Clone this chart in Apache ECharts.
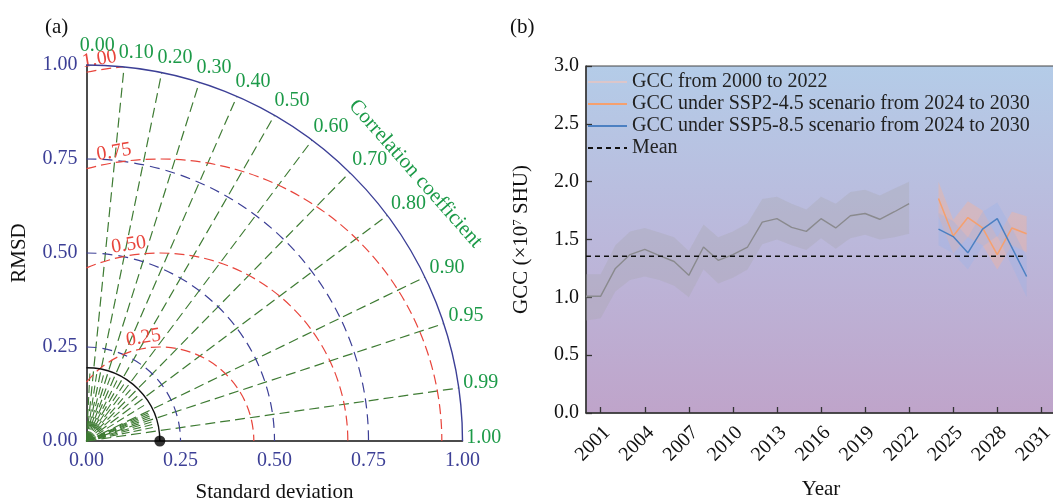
<!DOCTYPE html>
<html><head><meta charset="utf-8">
<script src="https://cdn.jsdelivr.net/npm/echarts@6/dist/echarts.min.js"></script>
<style>html,body{margin:0;padding:0;background:#fff}#c{width:1053px;height:499px}</style>
</head><body><div id="c"></div>
<script>
// ---------- Panel (a): Taylor diagram ----------
const refStd = 0.195;                       // reference standard deviation (black dot)
const stdTicks = [0, 0.25, 0.5, 0.75, 1.0];
const stdArcs = [0.25, 0.5, 0.75];
const rmsdCircles = [0.25, 0.5, 0.75, 1.0];
const rmsdLabels = ['0.25', '0.50', '0.75', '1.00'];
const corrMajor = [0.1, 0.2, 0.3, 0.4, 0.5, 0.6, 0.7, 0.8, 0.9, 0.95, 0.99];
const corrMinor = [0.05, 0.15, 0.25, 0.35, 0.45, 0.55, 0.65, 0.75, 0.85, 0.91, 0.92, 0.93, 0.94, 0.96, 0.97, 0.98];
const corrLabelValues = [0, 0.1, 0.2, 0.3, 0.4, 0.5, 0.6, 0.7, 0.8, 0.9, 0.95, 0.99, 1.0];
const corrLabels = ['0.00','0.10','0.20','0.30','0.40','0.50','0.60','0.70','0.80','0.90','0.95','0.99','1.00'];

// ---------- Panel (b): GCC time series ----------
const histYears = [2000,2001,2002,2003,2004,2005,2006,2007,2008,2009,2010,2011,2012,2013,2014,2015,2016,2017,2018,2019,2020,2021,2022];
const histGCC  = [1.01,1.01,1.25,1.37,1.415,1.36,1.31,1.19,1.435,1.32,1.37,1.435,1.65,1.68,1.605,1.57,1.68,1.60,1.705,1.725,1.675,1.74,1.81];
const histLow  = [0.80,0.82,1.05,1.15,1.18,1.15,1.10,1.00,1.24,1.12,1.17,1.24,1.46,1.50,1.45,1.41,1.51,1.42,1.51,1.54,1.50,1.52,1.55];
const histHigh = [1.20,1.20,1.45,1.57,1.60,1.56,1.52,1.40,1.63,1.52,1.57,1.64,1.85,1.87,1.81,1.76,1.87,1.81,1.91,1.93,1.88,1.94,2.00];
const projYears = [2024,2025,2026,2027,2028,2029,2030];
const ssp245     = [1.855,1.53,1.69,1.60,1.37,1.60,1.55];
const ssp245Low  = [1.70,1.38,1.52,1.45,1.24,1.45,1.39];
const ssp245High = [2.00,1.67,1.83,1.75,1.52,1.74,1.70];
const ssp585     = [1.59,1.525,1.385,1.59,1.68,1.43,1.18];
const ssp585Low  = [1.45,1.38,1.24,1.44,1.53,1.27,1.00];
const ssp585High = [1.73,1.66,1.52,1.74,1.82,1.60,1.35];
const meanGCC = 1.355;
const meanYears = [2000, 2030];
const yearTicks = [2001,2004,2007,2010,2013,2016,2019,2022,2025,2028,2031];
const seriesNames = ['GCC from 2000 to 2022','GCC under SSP2-4.5 scenario from 2024 to 2030','GCC under SSP5-8.5 scenario from 2024 to 2030','Mean'];

const FONT = 'Liberation Serif';
const NAVY = '#3c3f96', RED = '#e8453c', GTXT = '#1c9a48', GLINE = '#3e7b33';
const deg = d => d * Math.PI / 180;

function taylorRender(params, api) {
  const o = api.coord([0, 0]);
  const R = api.coord([1, 0])[0] - o[0];
  const P = (r, th, cx) => [o[0] + R * ((cx || 0) + r * Math.cos(th)), o[1] - R * r * Math.sin(th)];
  const kids = [];
  const arc = (cxu, r, t1, t2, stroke, dash, w) => ({
    type: 'arc',
    shape: { cx: o[0] + R * cxu, cy: o[1], r: R * r, startAngle: -t2, endAngle: -t1, clockwise: true },
    style: { stroke: stroke, fill: 'none', lineWidth: w || 1.2, lineDash: dash || null }
  });
  corrMinor.forEach(c => {
    const a = P(0, 0), b = P(refStd - 0.015, Math.acos(c));
    kids.push({ type: 'line', shape: { x1: a[0], y1: a[1], x2: b[0], y2: b[1] }, style: { stroke: GLINE, lineWidth: 1.1, lineDash: [8, 4] } });
  });
  corrMajor.forEach(c => {
    const a = P(0, 0), b = P(1, Math.acos(c));
    kids.push({ type: 'line', shape: { x1: a[0], y1: a[1], x2: b[0], y2: b[1] }, style: { stroke: GLINE, lineWidth: 1.2, lineDash: [10, 5] } });
  });
  stdArcs.forEach(r => kids.push(arc(0, r, 0, Math.PI / 2, NAVY, [10, 6], 1.2)));
  rmsdCircles.forEach((r, i) => {
    const c = refStd;
    const tEnd = Math.acos(-c / r);
    let tStart = 0;
    if (c + r > 1) tStart = Math.acos((1 - c * c - r * r) / (2 * c * r));
    kids.push(arc(c, r, tStart, tEnd, RED, [10, 5], 1.2));
    const p = P(r + 0.028, deg(99), c);
    kids.push({ type: 'text', x: p[0], y: p[1], rotation: deg(9),
      style: { text: rmsdLabels[i], fill: RED, fontSize: 20, fontFamily: FONT, align: 'center', verticalAlign: 'middle' } });
  });
  kids.push(arc(0, refStd, 0, Math.PI / 2, '#111', null, 1.4));
  kids.push(arc(0, 1, 0, Math.PI / 2, NAVY, null, 1.4));
  corrLabelValues.forEach((c, i) => {
    const th = Math.acos(c) * 180 / Math.PI;
    const ta = th + (th - 45) / 45;
    const p = P(1.01 + (th > 85 ? 0.015 : 0), deg(ta));
    kids.push({ type: 'text', x: p[0], y: p[1],
      style: { text: corrLabels[i], fill: GTXT, fontSize: 20, fontFamily: FONT, align: 'left', verticalAlign: 'bottom' } });
  });
  const tp = P(1.127, deg(39.1));
  kids.push({ type: 'text', x: tp[0], y: tp[1], rotation: -deg(48.5),
    style: { text: 'Correlation coefficient', fill: GTXT, fontSize: 21, fontFamily: FONT, align: 'center', verticalAlign: 'middle' } });
  return { type: 'group', children: kids };
}

function bandSeries(years, low, high, color) {
  return {
    type: 'custom', xAxisIndex: 1, yAxisIndex: 1, silent: true, z: 1,
    data: [[years[0], low[0]]], encode: { x: 0, y: 1 },
    renderItem: (params, api) => {
      const pts = [];
      years.forEach((y, i) => pts.push(api.coord([y, high[i]])));
      for (let i = years.length - 1; i >= 0; i--) pts.push(api.coord([years[i], low[i]]));
      return { type: 'polygon', shape: { points: pts }, style: { fill: color } };
    }
  };
}

const pairs = (xs, ys) => xs.map((x, i) => [x, ys[i]]);

const chart = echarts.init(document.getElementById('c'));
chart.setOption({
  animation: false,
  title: [
    { text: '(a)', left: 40, top: 12, textStyle: { fontFamily: FONT, fontSize: 21, fontWeight: 'normal', color: '#111' } },
    { text: '(b)', left: 505, top: 12, textStyle: { fontFamily: FONT, fontSize: 21, fontWeight: 'normal', color: '#111' } }
  ],
  legend: {
    orient: 'vertical', left: 582, top: 67, itemWidth: 39, itemHeight: 14, itemGap: 2,
    itemStyle: { opacity: 0 },
    textStyle: { fontFamily: FONT, fontSize: 20, color: '#222' },
    data: [
      { name: seriesNames[0], lineStyle: { color: '#dcc6ca' } },
      { name: seriesNames[1] },
      { name: seriesNames[2] },
      { name: seriesNames[3] }
    ]
  },
  grid: [
    { left: 86.5, top: 65, width: 376, height: 376, outerBoundsMode: 'none', containLabel: false },
    { left: 586, top: 66, right: -3, bottom: 86, show: true, borderColor: '#444', borderWidth: 1,
      outerBoundsMode: 'none', containLabel: false,
      backgroundColor: { type: 'linear', x: 0, y: 0, x2: 0, y2: 1,
        colorStops: [{ offset: 0, color: '#b4cce8' }, { offset: 0.5, color: '#bbb8db' }, { offset: 1, color: '#bfa4ca' }] } }
  ],
  xAxis: [
    { type: 'value', gridIndex: 0, min: 0, max: 1, interval: 0.25,
      name: 'Standard deviation', nameLocation: 'middle', nameGap: 41,
      nameTextStyle: { fontFamily: FONT, fontSize: 21, color: '#111' },
      axisLine: { lineStyle: { color: '#111', width: 1.5 } }, axisTick: { show: false }, splitLine: { show: false },
      axisLabel: { fontFamily: FONT, fontSize: 20, color: NAVY, margin: 10, formatter: v => v.toFixed(2) } },
    { type: 'value', gridIndex: 1, min: 2000, max: 2032,
      name: 'Year', nameLocation: 'middle', nameGap: 66,
      nameTextStyle: { fontFamily: FONT, fontSize: 21, color: '#111' },
      axisLine: { onZero: false, lineStyle: { color: '#333', width: 1.5 } },
      axisTick: { inside: true, length: 6, customValues: yearTicks, lineStyle: { color: '#333', width: 1.3 } },
      splitLine: { show: false },
      axisLabel: { customValues: yearTicks, rotate: 45, fontFamily: FONT, fontSize: 20, color: '#111', margin: 23, padding: [0, -9, 0, 0], formatter: v => String(v) } }
  ],
  yAxis: [
    { type: 'value', gridIndex: 0, min: 0, max: 1, interval: 0.25,
      name: 'RMSD', nameLocation: 'middle', nameGap: 57,
      nameTextStyle: { fontFamily: FONT, fontSize: 21, color: '#111' },
      axisLine: { lineStyle: { color: '#111', width: 1.5 } }, axisTick: { show: false }, splitLine: { show: false },
      axisLabel: { fontFamily: FONT, fontSize: 20, color: NAVY, margin: 9, formatter: v => v.toFixed(2) } },
    { type: 'value', gridIndex: 1, min: 0, max: 3, interval: 0.5,
      name: 'GCC (×10{sup|7} SHU)', nameLocation: 'middle', nameGap: 54,
      nameTextStyle: { fontFamily: FONT, fontSize: 21, color: '#111', rich: { sup: { fontFamily: FONT, fontSize: 13, verticalAlign: 'top', color: '#111' } } },
      axisLine: { show: true, lineStyle: { color: '#333', width: 1.5 } },
      axisTick: { inside: true, length: 6, lineStyle: { color: '#333', width: 1.3 } },
      splitLine: { show: false },
      axisLabel: { fontFamily: FONT, fontSize: 20, color: '#111', margin: 7, formatter: v => v.toFixed(1) } }
  ],
  series: [
    { type: 'custom', xAxisIndex: 0, yAxisIndex: 0, silent: true, data: [[0, 0]], encode: { x: 0, y: 1 }, renderItem: taylorRender, z: 2 },
    { type: 'scatter', xAxisIndex: 0, yAxisIndex: 0, data: [[refStd, 0]], symbolSize: 11, itemStyle: { color: '#000' }, clip: false, z: 5, silent: true },
    bandSeries(histYears, histLow, histHigh, 'rgba(165,165,170,0.3)'),
    bandSeries(projYears, ssp245Low, ssp245High, 'rgba(250,180,150,0.38)'),
    bandSeries(projYears, ssp585Low, ssp585High, 'rgba(150,180,235,0.3)'),
    { name: seriesNames[0], type: 'line', xAxisIndex: 1, yAxisIndex: 1, data: pairs(histYears, histGCC), symbol: 'none', z: 3,
      lineStyle: { color: '#8a8a8e', width: 1.4 }, itemStyle: { color: '#8a8a8e' } },
    { name: seriesNames[1], type: 'line', xAxisIndex: 1, yAxisIndex: 1, data: pairs(projYears, ssp245), symbol: 'none', z: 3,
      lineStyle: { color: '#f5a06e', width: 1.5 }, itemStyle: { color: '#f5a06e' } },
    { name: seriesNames[2], type: 'line', xAxisIndex: 1, yAxisIndex: 1, data: pairs(projYears, ssp585), symbol: 'none', z: 3,
      lineStyle: { color: '#4c80c2', width: 1.5 }, itemStyle: { color: '#4c80c2' } },
    { name: seriesNames[3], type: 'line', xAxisIndex: 1, yAxisIndex: 1, data: meanYears.map(y => [y, meanGCC]), symbol: 'none', z: 4,
      lineStyle: { color: '#111', width: 1.4, type: [5, 4] }, itemStyle: { color: '#111' } }
  ]
});
</script></body></html>
